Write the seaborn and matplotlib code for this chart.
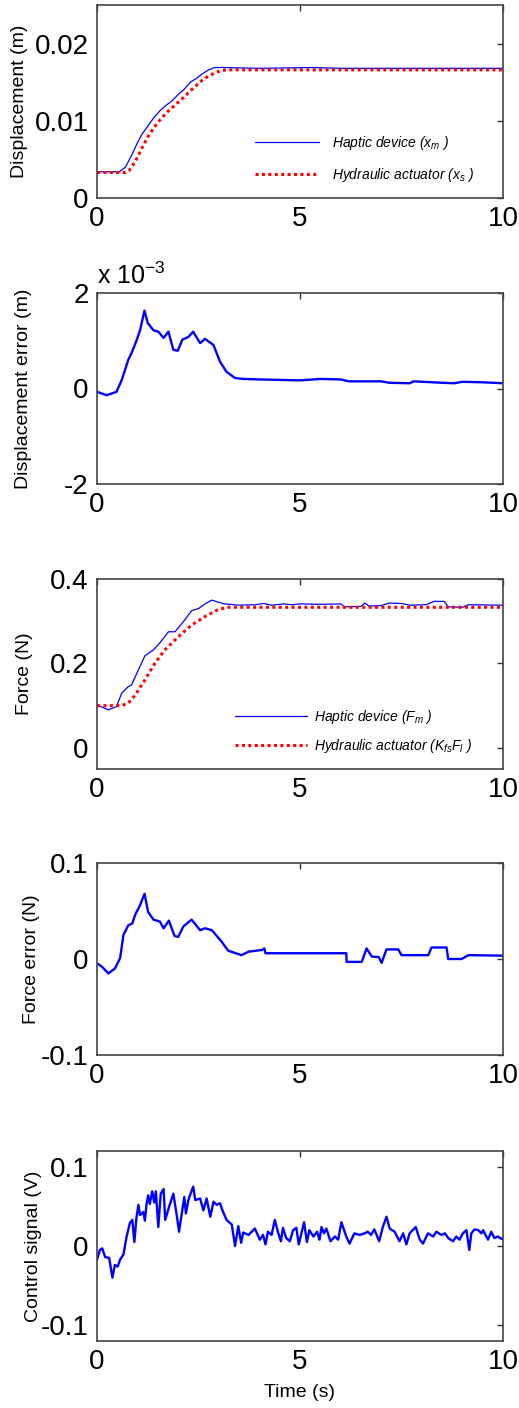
import numpy as np
import pandas as pd
import matplotlib
matplotlib.use('Agg')
import matplotlib.pyplot as plt
import seaborn as sns
from matplotlib.ticker import FuncFormatter

# ---- data ----
# displacement (m)
t_xm = [0, 0.3, 0.55, 0.7, 0.85, 1.0, 1.1, 1.25, 1.4, 1.55, 1.7, 1.85, 2.0, 2.15, 2.3, 2.45, 2.6, 2.75, 2.9, 3.1, 4.0, 5.3, 6.0, 7.0, 8.0, 9.0, 10.0]
xm = [0.0034, 0.0034, 0.0034, 0.0040, 0.0055, 0.0072, 0.0082, 0.0093, 0.0104, 0.0113, 0.0120, 0.0126, 0.0134, 0.0141, 0.0150, 0.0155, 0.0161, 0.0166, 0.0169, 0.0169, 0.0168, 0.0169, 0.0168, 0.0168, 0.0168, 0.0168, 0.0168]
t_xs = [0, 0.7, 0.8, 0.95, 1.1, 1.25, 1.4, 1.55, 1.7, 1.85, 2.0, 2.15, 2.3, 2.45, 2.6, 2.75, 2.9, 3.05, 3.2, 3.5, 10.0]
xs = [0.0033, 0.0033, 0.0036, 0.0048, 0.0064, 0.0079, 0.0091, 0.0101, 0.0110, 0.0117, 0.0124, 0.0131, 0.0139, 0.0146, 0.0153, 0.0158, 0.0162, 0.0165, 0.0166, 0.0166, 0.0166]

# displacement error (x 1e-3 m)
t_de = [0, 0.24, 0.48, 0.61, 0.77, 0.85, 0.98, 1.06, 1.17, 1.25, 1.39, 1.51, 1.64, 1.76, 1.88, 1.99, 2.1, 2.25, 2.37, 2.54, 2.66, 2.87, 3.03, 3.19, 3.4, 3.6, 4.0, 4.5, 5.0, 5.5, 6.0, 6.2, 7.0, 7.2, 7.7, 7.8, 8.5, 8.8, 9.0, 9.5, 10.0]
de = [-0.07, -0.14, -0.07, 0.18, 0.6, 0.74, 1.02, 1.22, 1.63, 1.37, 1.22, 1.19, 1.06, 1.19, 0.81, 0.79, 1.02, 1.08, 1.19, 0.95, 1.04, 0.91, 0.56, 0.35, 0.22, 0.2, 0.19, 0.18, 0.17, 0.2, 0.19, 0.15, 0.15, 0.12, 0.11, 0.15, 0.12, 0.11, 0.14, 0.13, 0.11]

# force (N)
t_fm = [0, 0.28, 0.48, 0.61, 0.77, 0.85, 1.02, 1.18, 1.39, 1.55, 1.76, 1.92, 2.13, 2.33, 2.5, 2.66, 2.83, 2.95, 3.15, 3.5, 3.9, 4.1, 4.3, 4.6, 4.8, 5.0, 5.5, 6.0, 6.1, 6.5, 6.6, 6.7, 7.0, 7.2, 7.5, 7.7, 8.1, 8.3, 8.55, 8.65, 9.0, 9.15, 10.0]
fm = [0.102, 0.09, 0.098, 0.13, 0.145, 0.149, 0.185, 0.218, 0.232, 0.249, 0.275, 0.275, 0.299, 0.325, 0.33, 0.341, 0.35, 0.346, 0.341, 0.338, 0.339, 0.342, 0.338, 0.341, 0.339, 0.341, 0.340, 0.341, 0.334, 0.335, 0.343, 0.336, 0.337, 0.343, 0.342, 0.338, 0.339, 0.347, 0.347, 0.334, 0.333, 0.339, 0.338]
t_fs = [0, 0.6, 0.77, 0.94, 1.18, 1.43, 1.67, 2.0, 2.33, 2.66, 2.99, 3.23, 3.5, 10.0]
fs = [0.1, 0.1, 0.106, 0.125, 0.161, 0.201, 0.232, 0.263, 0.291, 0.311, 0.328, 0.333, 0.333, 0.333]

# force error (N)
t_fe = [0, 0.12, 0.28, 0.44, 0.57, 0.65, 0.77, 0.87, 0.94, 1.06, 1.17, 1.26, 1.39, 1.55, 1.64, 1.77, 1.91, 2.0, 2.13, 2.33, 2.54, 2.66, 2.83, 3.07, 3.23, 3.56, 3.73, 4.06, 4.12, 4.15, 6.14, 6.15, 6.52, 6.64, 6.77, 6.94, 7.01, 7.13, 7.42, 7.5, 8.16, 8.24, 8.61, 8.65, 8.98, 9.15, 10.0]
fe = [-0.0045, -0.008, -0.015, -0.01, 0.001, 0.025, 0.035, 0.037, 0.046, 0.056, 0.068, 0.049, 0.041, 0.039, 0.032, 0.04, 0.024, 0.023, 0.034, 0.041, 0.03, 0.032, 0.03, 0.018, 0.0087, 0.004, 0.0076, 0.0094, 0.011, 0.006, 0.006, -0.003, -0.003, 0.011, 0.0025, 0.002, -0.004, 0.01, 0.01, 0.004, 0.004, 0.012, 0.012, 0.0, 0.0, 0.004, 0.0035]

# control signal (V)
t_u = [0, 0.07, 0.13, 0.2, 0.3, 0.38, 0.44, 0.51, 0.57, 0.65, 0.73, 0.81, 0.87, 0.92, 0.97, 1.02, 1.06, 1.14, 1.18, 1.22, 1.26, 1.3, 1.36, 1.41, 1.45, 1.51, 1.57, 1.64, 1.68, 1.76, 1.88, 1.97, 2.02, 2.1, 2.15, 2.19, 2.25, 2.29, 2.37, 2.42, 2.54, 2.62, 2.7, 2.79, 2.87, 2.95, 3.03, 3.09, 3.19, 3.32, 3.4, 3.48, 3.55, 3.6, 3.73, 3.89, 4.01, 4.09, 4.15, 4.21, 4.3, 4.38, 4.46, 4.53, 4.58, 4.66, 4.75, 4.83, 4.91, 4.97,
       5.1, 5.17, 5.23, 5.33, 5.42, 5.48, 5.53, 5.59, 5.65, 5.75, 5.86, 5.94, 6.02, 6.14, 6.22, 6.34, 6.47, 6.59, 6.67, 6.75, 6.83, 6.95, 7.04, 7.13, 7.21, 7.33, 7.45, 7.54, 7.62, 7.7, 7.85, 7.95, 8.03, 8.15, 8.28, 8.36, 8.48, 8.57, 8.65, 8.77, 8.85, 8.93, 9.01, 9.1, 9.17, 9.22, 9.3, 9.39, 9.47, 9.51, 9.63, 9.71, 9.79, 9.87, 9.96, 10.0]
u = [-0.0175, -0.005, -0.003, -0.014, -0.015, -0.04, -0.024, -0.026, -0.017, -0.011, 0.012, 0.029, 0.033, 0.005, 0.035, 0.052, 0.039, 0.043, 0.032, 0.053, 0.064, 0.053, 0.069, 0.055, 0.069, 0.024, 0.066, 0.072, 0.033, 0.047, 0.066, 0.037, 0.018, 0.045, 0.062, 0.041, 0.058, 0.064, 0.075, 0.058, 0.06, 0.045, 0.06, 0.037, 0.056, 0.052, 0.054, 0.045, 0.033, 0.027, 0.0, 0.025, 0.004, 0.017, 0.014, 0.022, 0.008, 0.014, 0.002, 0.018, 0.014, 0.033, 0.017, 0.006, 0.023, 0.01, 0.006, 0.02, 0.023, 0.002,
     0.03, 0.005, 0.02, 0.012, 0.018, 0.008, 0.024, 0.016, 0.022, 0.006, 0.012, 0.008, 0.03, 0.012, 0.003, 0.016, 0.014, 0.016, 0.018, 0.014, 0.021, 0.006, 0.024, 0.037, 0.022, 0.018, 0.006, 0.016, 0.002, 0.016, 0.024, 0.008, 0.003, 0.016, 0.012, 0.018, 0.014, 0.016, 0.01, 0.006, 0.012, 0.008, 0.016, 0.02, -0.005, 0.016, 0.021, 0.02, 0.016, 0.02, 0.008, 0.018, 0.01, 0.012, 0.009, 0.01]

ylabels = ['Displacement (m)', 'Displacement error (m)', 'Force (N)', 'Force error (N)', 'Control signal (V)']
ylims = [(0, 0.025), (-2, 2), (-0.05, 0.4), (-0.1, 0.1), (-0.12, 0.12)]
yticks = [[0, 0.01, 0.02], [-2, 0, 2], [0, 0.2, 0.4], [-0.1, 0, 0.1], [-0.1, 0, 0.1]]

sns.set_style('white')
plt.rcParams['font.family'] = ['Liberation Sans', 'DejaVu Sans']
plt.rcParams['mathtext.fontset'] = 'custom'
plt.rcParams['mathtext.rm'] = 'Liberation Sans'
plt.rcParams['mathtext.it'] = 'Liberation Sans:italic'
plt.rcParams['axes.unicode_minus'] = False
plt.rcParams['text.color'] = 'black'
plt.rcParams['axes.labelcolor'] = 'black'
plt.rcParams['xtick.color'] = 'black'
plt.rcParams['ytick.color'] = 'black'

W, H = 519, 1408
fig = plt.figure(figsize=(W/100, H/100), dpi=100)
boxes = [(5, 198), (293, 484), (579, 769), (863, 1055), (1151, 1341)]
axes = []
for top, bot in boxes:
    axes.append(fig.add_axes([97/W, 1-bot/H, 406/W, (bot-top)/H]))

blue = '#0000ff'
sns.lineplot(x=t_xm, y=xm, ax=axes[0], color=blue, lw=0.9, label='Haptic device ($x_m$ )', sort=False, estimator=None)
sns.lineplot(x=t_xs, y=xs, ax=axes[0], color='red', lw=2.2, ls=(0, (1, 1.1)), label='Hydraulic actuator ($x_s$ )', sort=False, estimator=None)
sns.lineplot(x=t_de, y=de, ax=axes[1], color=blue, lw=1.7, sort=False, estimator=None)
sns.lineplot(x=t_fm, y=fm, ax=axes[2], color=blue, lw=0.9, label='Haptic device ($F_m$ )', sort=False, estimator=None)
sns.lineplot(x=t_fs, y=fs, ax=axes[2], color='red', lw=2.2, ls=(0, (1, 1.1)), label='Hydraulic actuator ($K_{fs}F_l$ )', sort=False, estimator=None)
sns.lineplot(x=t_fe, y=fe, ax=axes[3], color=blue, lw=1.7, sort=False, estimator=None)
sns.lineplot(x=t_u, y=u, ax=axes[4], color=blue, lw=1.7, sort=False, estimator=None)

fmt = FuncFormatter(lambda v, p: '%g' % v)
lab_x = [-0.170, -0.160, -0.158, -0.140, -0.135]
for i, ax in enumerate(axes):
    ax.set_xlim(0, 10)
    ax.set_ylim(*ylims[i])
    ax.set_xticks([0, 5, 10])
    ax.set_yticks(yticks[i])
    ax.yaxis.set_major_formatter(fmt)
    ax.xaxis.set_major_formatter(fmt)
    ax.tick_params(direction='in', length=4, width=1, color='#333333', labelcolor='black',
                   labelsize=20, top=True, right=True, pad=6)
    for s in ax.spines.values():
        s.set_color('#444444')
        s.set_linewidth(1.2)
    ax.set_ylabel(ylabels[i], fontsize=14)
    ax.yaxis.set_label_coords(lab_x[i], 0.5)
    ax.set_xlabel('')

axes[4].set_xlabel('Time (s)', fontsize=14)
axes[4].xaxis.set_label_coords(0.5, -0.225)

axes[0].legend(loc='upper left', bbox_to_anchor=(0.39, 0.33), frameon=False, prop={'style': 'italic', 'size': 10},
               handlelength=4.6, handletextpad=0.9, labelspacing=1.0, borderpad=0, borderaxespad=0)
axes[2].legend(loc='upper left', bbox_to_anchor=(0.34, 0.32), frameon=False, prop={'style': 'italic', 'size': 10},
               handlelength=5.2, handletextpad=0.5, labelspacing=0.75, borderpad=0, borderaxespad=0)

fig.text(97/W, 1-284/H, 'x 10$^{-3}$', fontsize=18, ha='left', va='baseline')

fig.savefig('out.png', dpi=100)
